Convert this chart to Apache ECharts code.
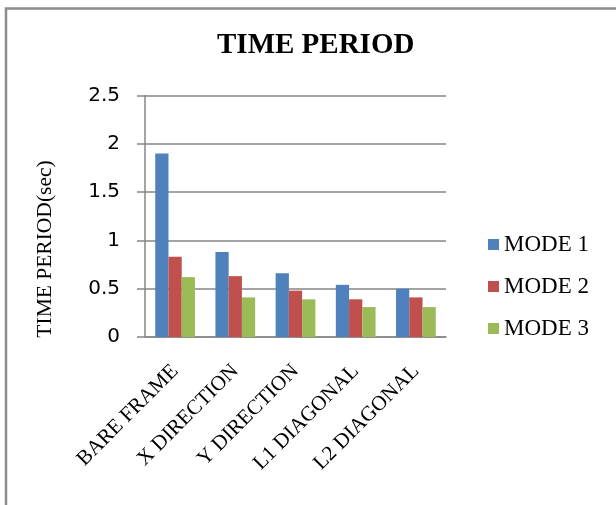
<!DOCTYPE html>
<html>
<head>
<meta charset="utf-8">
<script src="https://cdn.jsdelivr.net/npm/echarts@6/dist/echarts.min.js"></script>
<style>
  html, body { margin: 0; padding: 0; background: #fff; }
  #chart { width: 616px; height: 505px; }
</style>
</head>
<body>
<div id="chart"></div>
<script>
const categories = ['BARE FRAME', 'X DIRECTION', 'Y DIRECTION', 'L1 DIAGONAL', 'L2 DIAGONAL'];
const mode1 = [1.90, 0.88, 0.66, 0.54, 0.50];
const mode2 = [0.83, 0.63, 0.48, 0.39, 0.41];
const mode3 = [0.62, 0.41, 0.39, 0.31, 0.31];

const gridColor = '#868686';
const serif = '"Liberation Serif", "Times New Roman", serif';

const chart = echarts.init(document.getElementById('chart'));

function bar(name, data, color) {
    return {
        name: name,
        type: 'bar',
        data: data,
        barGap: '0%',
        barCategoryGap: '34%',
        itemStyle: { color: color }
    };
}

chart.setOption({
    animation: false,
    title: {
        text: 'TIME PERIOD',
        left: 212,
        top: 26,
        textStyle: { fontFamily: serif, fontWeight: 'bold', fontSize: 29, color: '#000' }
    },
    legend: {
        orient: 'vertical',
        left: 488,
        top: 233,
        padding: 0,
        itemWidth: 11,
        itemHeight: 11,
        itemGap: 19,
        icon: 'rect',
        textStyle: { fontFamily: serif, fontSize: 23, color: '#000', lineHeight: 23 },
        data: ['MODE 1', 'MODE 2', 'MODE 3']
    },
    grid: { left: 145, right: 170, top: 95.5, bottom: 168, containLabel: false },
    xAxis: {
        type: 'category',
        data: categories,
        axisLine: { lineStyle: { color: gridColor, width: 1.5 } },
        axisTick: { show: false },
        axisLabel: {
            interval: 0,
            rotate: 45,
            align: 'right',
            verticalAlign: 'middle',
            margin: 31,
            fontFamily: serif,
            fontSize: 21,
            color: '#000'
        }
    },
    yAxis: {
        type: 'value',
        min: 0,
        max: 2.5,
        interval: 0.5,
        axisLine: { show: true, lineStyle: { color: gridColor, width: 1.5 } },
        axisTick: { show: true, length: 8, lineStyle: { color: gridColor, width: 1.5 } },
        splitLine: { lineStyle: { color: gridColor, width: 1.5 } },
        axisLabel: {
            margin: 25,
            fontFamily: '"DejaVu Sans", sans-serif',
            fontSize: 20,
            color: '#000'
        }
    },
    graphic: [
        {
            type: 'rect',
            shape: { x: 6, y: 8.5, width: 640, height: 540 },
            style: { fill: 'none', stroke: '#8c8c8c', lineWidth: 2.5 },
            silent: true
        },
        {
            type: 'text',
            x: 45,
            y: 249,
            rotation: Math.PI / 2,
            style: {
                text: 'TIME PERIOD(sec)',
                fontFamily: serif,
                fontSize: 21.5,
                fill: '#000',
                align: 'center',
                verticalAlign: 'middle'
            }
        }
    ],
    series: [
        bar('MODE 1', mode1, '#4F81BD'),
        bar('MODE 2', mode2, '#C0504D'),
        bar('MODE 3', mode3, '#9BBB59')
    ]
});
</script>
</body>
</html>
